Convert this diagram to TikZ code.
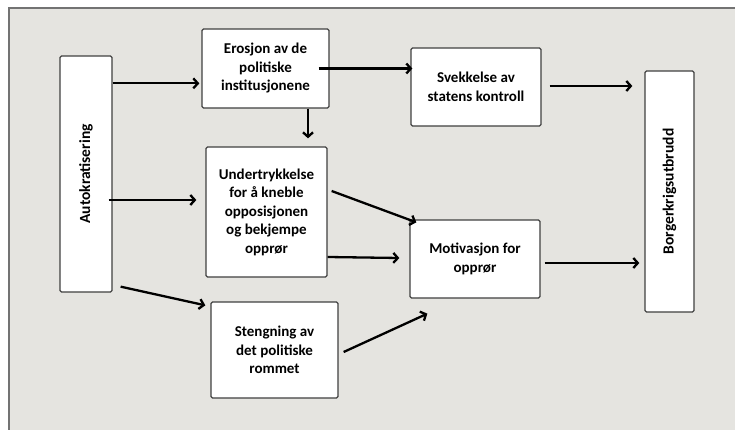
\documentclass[tikz,border=0pt]{standalone}
\usepackage{fontspec}
\setmainfont{Carlito}
\usetikzlibrary{arrows.meta}

\tikzset{
  box/.style={draw=black!75, fill=white, line width=1.3pt, rounded corners=1.5pt,
    inner sep=0pt, align=center, font=\bfseries\fontsize{15}{18.5}\selectfont},
  arr/.style={line width=2.3pt, -{Straight Barb[length=4.5pt,width=10pt]}}
}

\begin{document}
\begin{tikzpicture}[x=1pt,y=-1pt]
              \useasboundingbox (0,0) rectangle (735,430);
              \draw[fill={rgb,255:red,229;green,228;blue,224}, draw=black!55, line width=1.5pt]
                (9,8) rectangle (740,436);
              \node[box, minimum width=52pt, minimum height=236pt,
                label={[rotate=90, font=\bfseries\fontsize{15.5}{18.5}\selectfont]center:Autokratisering}]
                (auto) at (86,174) {};
              \node[box, minimum width=127pt, minimum height=79pt] (ero) at (265.5,68.5)
                {Erosjon av de\\politiske\\institusjonene};
              \node[box, minimum width=121pt, minimum height=130pt] (und) at (266.5,212)
                {Undertrykkelse\\for å kneble\\opposisjonen\\og bekjempe\\opprør};
              \node[box, minimum width=127pt, minimum height=96pt] (sten) at (274.5,350)
                {Stengning av\\det politiske\\rommet};
              \node[box, minimum width=130pt, minimum height=78pt] (svek) at (476,87)
                {Svekkelse av\\statens kontroll};
              \node[box, minimum width=130pt, minimum height=78pt] (mot) at (475,259)
                {Motivasjon for\\opprør};
              \node[box, minimum width=49pt, minimum height=241pt,
                label={[rotate=90, font=\bfseries\fontsize{15.5}{18.5}\selectfont]center:Borgerkrigsutbrudd}]
                (borg) at (669.5,191.5) {};
              \draw[arr] ([shift={(0,28)}]auto.north east) -- ([shift={(-2,55)}]ero.north west);
              \draw[arr] ([shift={(-4,26)}]auto.east) -- ([shift={(-9,-12)}]und.west);
              \draw[arr] ([shift={(8,-6)}]auto.south east) -- ([shift={(-5,4)}]sten.north west);
              \draw[arr] ([shift={(-11,0)}]ero.east) -- ([shift={(2,-18.5)}]svek.west);
              \draw[arr] ([shift={(42.5,0)}]ero.south) -- ([shift={(41.5,-8)}]und.north);
              \draw[arr] ([shift={(8,-1)}]svek.east) -- ([shift={(-12,-105.5)}]borg.west);
              \draw[arr] ([shift={(4,-21)}]und.east) -- ([shift={(7,3)}]mot.north west);
              \draw[arr] ([shift={(0,45)}]und.east) -- ([shift={(-10,-1)}]mot.west);
              \draw[arr] ([shift={(5,2)}]sten.east) -- ([shift={(18,15)}]mot.south west);
              \draw[arr] ([shift={(4,4)}]mot.east) -- ([shift={(-5,71.5)}]borg.west);
            \end{tikzpicture}
\end{document}
